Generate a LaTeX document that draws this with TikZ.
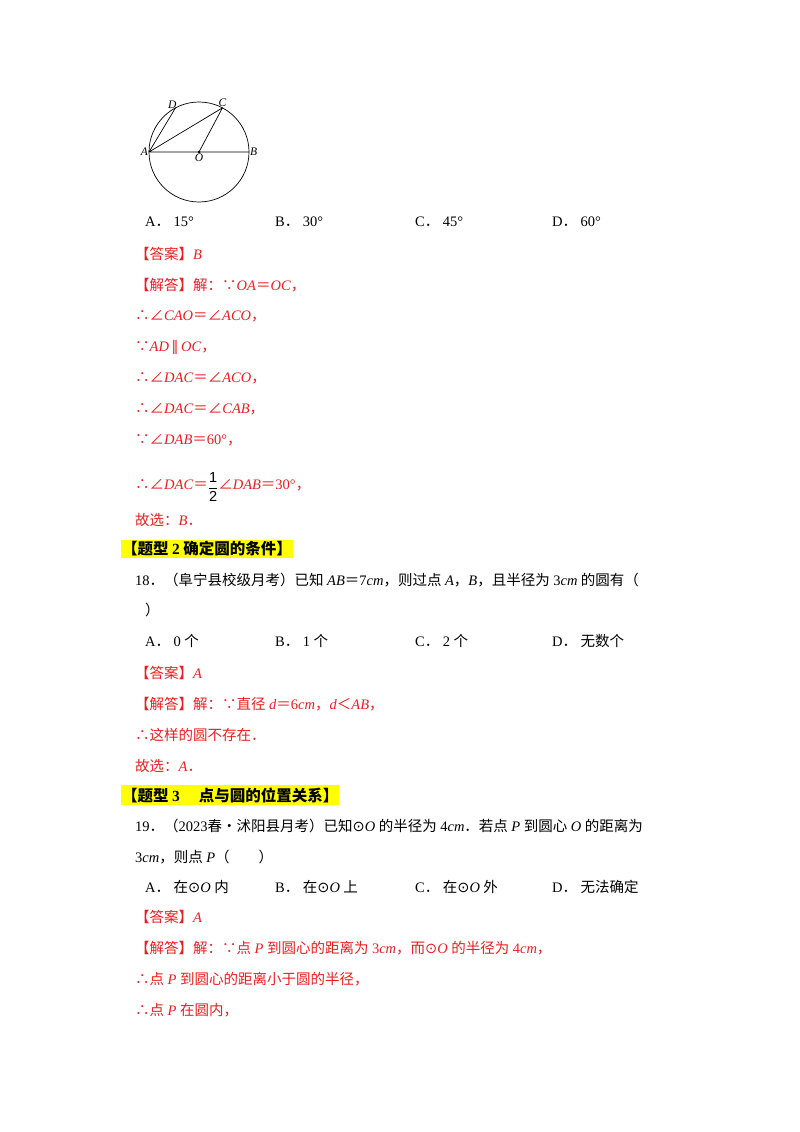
\documentclass[tikz,border=0pt]{standalone}
\usepackage{fontspec}
\usetikzlibrary{calc}
\setmainfont{Liberation Serif}
\setsansfont{Liberation Sans}
\newfontfamily\cjk{Noto Sans CJK SC}
\newfontfamily\sym{DejaVu Sans}
\newcommand{\zh}[1]{{\cjk #1}}
\newcommand{\vv}[1]{\textit{#1}}
\newcommand{\ccirc}{{\sym ⊙}}
\newcommand{\gp}{\hspace{3.5pt}}
\definecolor{ans}{RGB}{235,30,30}
\definecolor{hl}{RGB}{255,255,0}
\begin{document}
\begin{tikzpicture}[x=1pt,y=-1pt,
  txt/.style={anchor=west,inner sep=0pt,font=\fontsize{14.5}{17}\selectfont},
  red/.style={txt,text=ans},
  head/.style={txt,fill=hl,inner ysep=2pt,inner xsep=1pt,font=\fontsize{15.5}{18}\selectfont\bfseries},
  lbl/.style={inner sep=1pt,font=\fontsize{11.5}{13}\selectfont\itshape}]
\useasboundingbox (0,0) rectangle (800,1132);
% figure
\coordinate (O) at (199,152);
\draw[line width=0.7pt] (O) circle (50);
\coordinate (A) at ($(O)+(180:50)$);
\coordinate (B) at ($(O)+(0:50)$);
\coordinate (C) at ($(O)+(-62:50)$);
\coordinate (D) at ($(O)+(-118:50)$);
\draw[line width=0.7pt] (A)--(B) (A)--(C) (A)--(D) (C)--(O);
\fill (O) circle (1.5);
\node[lbl,left] (lA) at (A) {A};
\node[lbl,right] (lB) at (B) {B};
\node[lbl,below] (lO) at ($(O)+(0,1)$) {O};
\node[lbl,above] (lC) at (C) {C};
\node[lbl,above left=-2pt] (lD) at (D) {D};
% options
\node[txt] (o1) at (145,222) {A\zh{．}\gp15°};
\node[txt] (o2) at (275,222) {B\zh{．}\gp30°};
\node[txt] (o3) at (415,222) {C\zh{．}\gp45°};
\node[txt] (o4) at (552,222) {D\zh{．}\gp60°};
\node[red] (r1) at (135,254) {\zh{【答案】}\vv{B}};
\node[red] (r2) at (135,285) {\zh{【解答】解：∵}\vv{OA}\zh{＝}\vv{OC}\zh{，}};
\node[red] (r3) at (135,316) {\zh{∴∠}\vv{CAO}\zh{＝∠}\vv{ACO}\zh{，}};
\node[red] (r4) at (135,347) {\zh{∵}\vv{AD}\,{\sym ∥}\,\vv{OC}\zh{，}};
\node[red] (r5) at (135,378) {\zh{∴∠}\vv{DAC}\zh{＝∠}\vv{ACO}\zh{，}};
\node[red] (r6) at (135,409) {\zh{∴∠}\vv{DAC}\zh{＝∠}\vv{CAB}\zh{，}};
\node[red] (r7) at (135,440) {\zh{∵∠}\vv{DAB}\zh{＝}60°\zh{，}};
\node[red] (r8) at (135,487) {\zh{∴∠}\vv{DAC}\zh{＝}\raisebox{-2pt}{\textcolor{black}{$\displaystyle\frac{\textsf{1}}{\textsf{2}}$}}\zh{∠}\vv{DAB}\zh{＝}30°\zh{，}};
\node[red] (r9) at (135,520) {\zh{故选：}\vv{B}\zh{．}};
\node[head] (h2) at (121,549) {\zh{【题型}\gp2\gp\zh{确定圆的条件】}};
\node[txt] (q18) at (135,580) {18\zh{．（阜宁县校级月考）已知}\gp\vv{AB}\zh{＝}7\vv{cm}\zh{，则过点}\gp\vv{A}\zh{，}\vv{B}\zh{，且半径为}\gp3\vv{cm}\gp\zh{的圆有（}};
\node[txt] (q18b) at (145,610) {\zh{）}};
\node[txt] (p1) at (145,641) {A\zh{．}\gp0\gp\zh{个}};
\node[txt] (p2) at (275,641) {B\zh{．}\gp1\gp\zh{个}};
\node[txt] (p3) at (415,641) {C\zh{．}\gp2\gp\zh{个}};
\node[txt] (p4) at (552,641) {D\zh{．}\gp\zh{无数个}};
\node[red] (s1) at (135,673) {\zh{【答案】}\vv{A}};
\node[red] (s2) at (135,704) {\zh{【解答】解：∵直径}\gp\vv{d}\zh{＝}6\vv{cm}\zh{，}\vv{d}\zh{＜}\vv{AB}\zh{，}};
\node[red] (s3) at (135,735) {\zh{∴这样的圆不存在．}};
\node[red] (s4) at (135,766) {\zh{故选：}\vv{A}\zh{．}};
\node[head] (h3) at (121,795) {\zh{【题型}\gp3\gp\zh{　点与圆的位置关系】}};
\node[txt] (q19) at (135,826) {19\zh{．（}2023\zh{春•沭阳县月考）已知}\ccirc\vv{O}\gp\zh{的半径为}\gp4\vv{cm}\zh{．若点}\gp\vv{P}\gp\zh{到圆心}\gp\vv{O}\gp\zh{的距离为}};
\node[txt] (q19b) at (135,857) {3\vv{cm}\zh{，则点}\gp\vv{P}\zh{（　　）}};
\node[txt] (t1) at (145,887) {A\zh{．}\gp\zh{在}\ccirc\vv{O}\gp\zh{内}};
\node[txt] (t2) at (275,887) {B\zh{．}\gp\zh{在}\ccirc\vv{O}\gp\zh{上}};
\node[txt] (t3) at (415,887) {C\zh{．}\gp\zh{在}\ccirc\vv{O}\gp\zh{外}};
\node[txt] (t4) at (552,887) {D\zh{．}\gp\zh{无法确定}};
\node[red] (u1) at (135,917) {\zh{【答案】}\vv{A}};
\node[red] (u2) at (135,948) {\zh{【解答】解：∵点}\gp\vv{P}\gp\zh{到圆心的距离为}\gp3\vv{cm}\zh{，而}\ccirc\vv{O}\gp\zh{的半径为}\gp4\vv{cm}\zh{，}};
\node[red] (u3) at (135,979) {\zh{∴点}\gp\vv{P}\gp\zh{到圆心的距离小于圆的半径，}};
\node[red] (u4) at (135,1010) {\zh{∴点}\gp\vv{P}\gp\zh{在圆内，}};
\end{tikzpicture}
\end{document}
